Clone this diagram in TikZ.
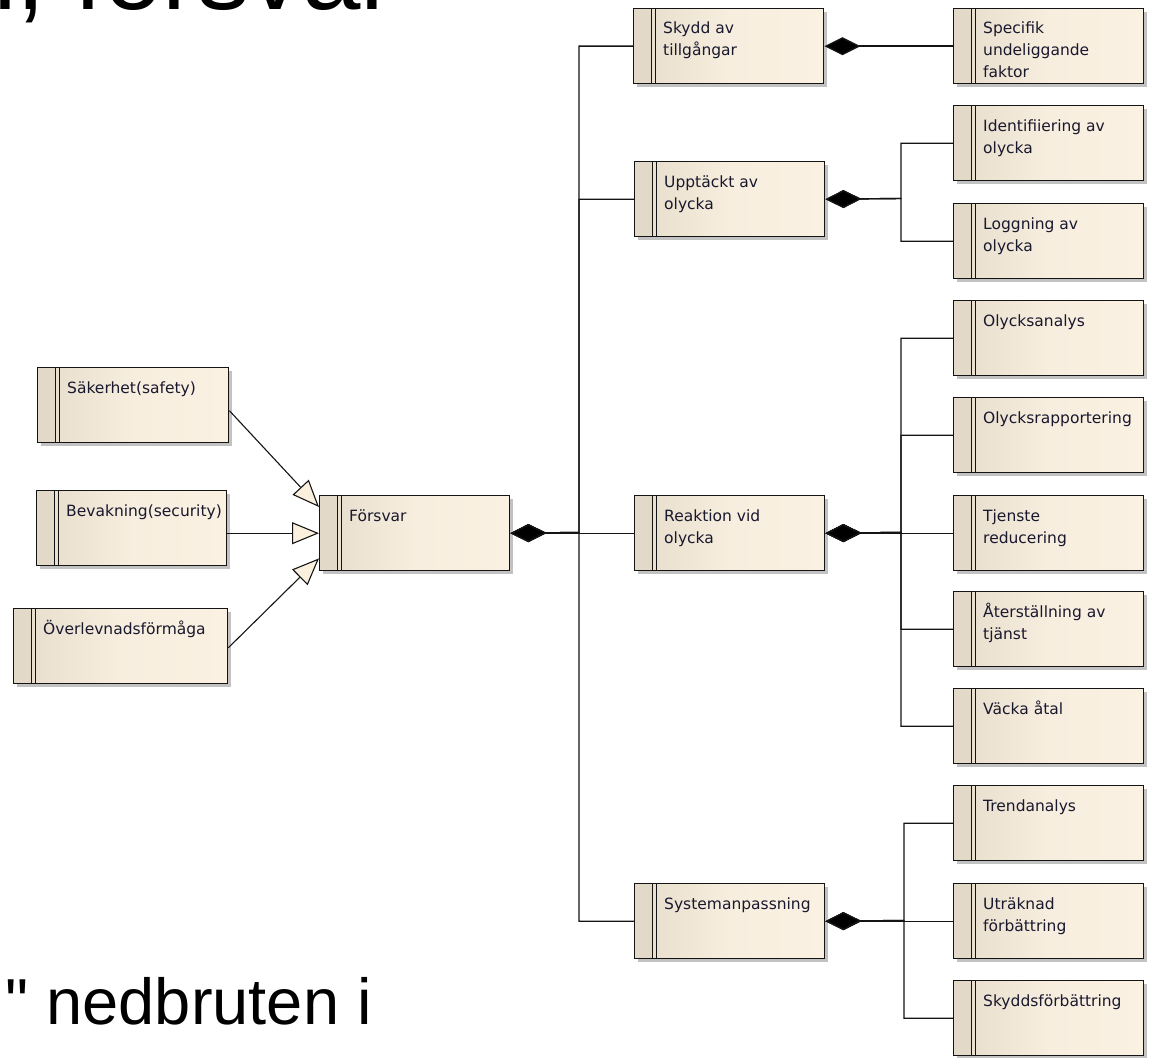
\documentclass[tikz,border=0pt]{standalone}
\usepackage{fontspec}
\setmainfont{Liberation Sans}
\newfontfamily\slidefont{Liberation Sans}[Ligatures=TeXOff]
\newfontfamily\boxfont{DejaVu Sans}
\usetikzlibrary{arrows.meta,calc}

\definecolor{stripc}{HTML}{E3D9C8}
\definecolor{leftc}{HTML}{E6DCCB}
\definecolor{rightc}{HTML}{FBF1E2}
\definecolor{shadowc}{HTML}{C2C2C2}
\definecolor{edgec}{HTML}{141414}
\definecolor{inkc}{HTML}{18182E}
\definecolor{tipc}{HTML}{FBF0DE}

\tikzset{
  umlbox/.style={draw=edgec, line width=1.4pt, minimum height=75pt, inner sep=0pt,
    anchor=north west, left color=leftc, right color=rightc, middle color=rightc!85!leftc,
    path picture={
      \fill[stripc] (path picture bounding box.north west) rectangle ([xshift=18pt]path picture bounding box.south west);
      \draw[edgec, line width=1.2pt] ([xshift=18pt]path picture bounding box.north west) -- ([xshift=18pt]path picture bounding box.south west);
      \draw[edgec, line width=1.2pt] ([xshift=22pt]path picture bounding box.north west) -- ([xshift=22pt]path picture bounding box.south west);
    }},
  boxtext/.style={anchor=base west, inner sep=0pt, text=inkc,
    font=\boxfont\fontsize{15.5}{22}\selectfont},
  conn/.style={draw=edgec, line width=1.4pt},
  comp/.style={conn, {Diamond[length=36pt,width=18pt,fill=black]}-},
  gen/.style={draw=edgec, line width=1.1pt, -{Triangle[length=27pt,width=22pt,fill=tipc]}},
  bigtext/.style={anchor=base east, inner sep=0pt, text=black},
}

% class box: name, left x, top y, width, text lines
\newcommand\umlclass[5]{%
  \fill[shadowc] (#2+4,#3+4) rectangle (#2+#4+4,#3+79);
  \node[umlbox, minimum width=#4pt] (#1) at (#2,#3) {};
  \node[boxtext] (#1-t) at ([shift={(30,26)}]#1.north west) {\vtop{#5}};
}

\begin{document}
\begin{tikzpicture}[x=1pt, y=-1pt]
\useasboundingbox (0,0) rectangle (1155,1057);

% slide text
\node[bigtext, font=\slidefont\fontsize{105}{120}\selectfont] (title) at (396,9.5) {n, försvar};
\node[bigtext, font=\slidefont\fontsize{65}{78}\selectfont] (sub) at (372,1024) {" nedbruten i};

% left column
\umlclass{saf}{37}{367}{191}{\hbox{Säkerhet(safety)}}
\umlclass{bev}{36}{490}{190}{\hbox{Bevakning(security)}}
\umlclass{ove}{13}{608}{214}{\hbox{Överlevnadsförmåga}}
\umlclass{fors}{319}{495}{190}{\hbox{Försvar}}

% middle column
\umlclass{skydd}{633}{8}{190}{\hbox{Skydd av}\hbox{tillgångar}}
\umlclass{upp}{634}{161}{190}{\hbox{Upptäckt av}\hbox{olycka}}
\umlclass{reak}{634}{495}{190}{\hbox{Reaktion vid}\hbox{olycka}}
\umlclass{sys}{634}{883}{190}{\hbox{Systemanpassning}}

% right column
\umlclass{spec}{953}{8}{190}{\hbox{Specifik}\hbox{undeliggande}\hbox{faktor}}
\umlclass{ident}{953}{105}{190}{\hbox{Identifiiering av}\hbox{olycka}}
\umlclass{logg}{953}{203}{190}{\hbox{Loggning av}\hbox{olycka}}
\umlclass{olan}{953}{300}{190}{\hbox{Olycksanalys}}
\umlclass{olrap}{953}{397}{190}{\hbox{Olycksrapportering}}
\umlclass{tjen}{953}{495}{190}{\hbox{Tjenste}\hbox{reducering}}
\umlclass{ater}{953}{591}{190}{\hbox{Återställning av}\hbox{tjänst}}
\umlclass{vacka}{953}{688}{190}{\hbox{Väcka åtal}}
\umlclass{trend}{953}{785}{190}{\hbox{Trendanalys}}
\umlclass{utr}{953}{883}{190}{\hbox{Uträknad}\hbox{förbättring}}
\umlclass{skf}{953}{980}{190}{\hbox{Skyddsförbättring}}

% generalizations into Försvar
\draw[gen] ([yshift=-5.5pt]saf.east) -- ([yshift=-12pt]fors.north west);
\draw[gen] (bev.east |- fors.west) -- (fors.west);
\draw[gen] ([yshift=-1.5pt]ove.east) -- ([yshift=13pt]fors.south west);

% bus junctions
\coordinate (b1) at (579,532.5);
\coordinate (b2) at (901,198.5);
\coordinate (b3) at (901,532.5);
\coordinate (b4) at (904,920.5);

% Försvar compositions
\draw[comp] (fors.east) -- (b1) |- (skydd.west);
\draw[comp] (fors.east) -- (b1) |- (upp.west);
\draw[comp] (fors.east) -- (reak.west);
\draw[comp] (fors.east) -- (b1) |- (sys.west);

% second level compositions
\draw[comp] (skydd.east) -- (spec.west);
\draw[comp] (upp.east) -- (b2) |- (ident.west);
\draw[comp] (upp.east) -- (b2) |- (logg.west);
\draw[comp] (reak.east) -- (b3) |- (olan.west);
\draw[comp] (reak.east) -- (b3) |- (olrap.west);
\draw[comp] (reak.east) -- (tjen.west);
\draw[comp] (reak.east) -- (b3) |- (ater.west);
\draw[comp] (reak.east) -- (b3) |- (vacka.west);
\draw[comp] (sys.east) -- (b4) |- (trend.west);
\draw[comp] (sys.east) -- (utr.west);
\draw[comp] (sys.east) -- (b4) |- (skf.west);
\end{tikzpicture}
\end{document}
